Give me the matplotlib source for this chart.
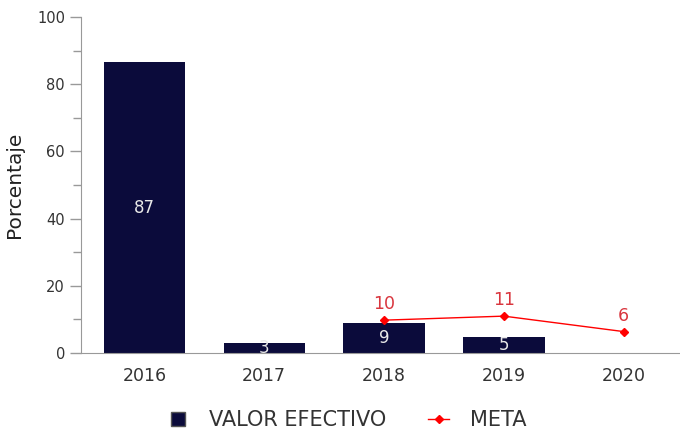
import numpy as np
import matplotlib.pyplot as plt
from matplotlib.ticker import MultipleLocator
from matplotlib.lines import Line2D

plt.rcParams['font.family'] = ['DejaVu Sans']

years = ['2016', '2017', '2018', '2019', '2020']
valor = [86.6, 3.0, 9.0, 4.8]
meta_years = ['2018', '2019', '2020']
meta = [9.8, 11.0, 6.4]
meta_labels = ['10', '11', '6']

fig = plt.figure(figsize=(6.8, 4.37), dpi=100)
ax = fig.add_axes([0.119, 0.192, 0.881, 0.769])

x = np.arange(len(years))
xb = x[:len(valor)]
ax.bar(xb, valor, width=0.68, color='#0b0b3b', zorder=2)
for xi, v in zip(xb, valor):
    ax.text(xi, v / 2, '%.0f' % v, ha='center', va='center', color='#e8e8e8', fontsize=12, zorder=3)

xm = [years.index(y) for y in meta_years]
ax.plot(xm, meta, color='#ff0000', lw=1, marker='D', markersize=4, zorder=4)
for xi, v, lab in zip(xm, meta, meta_labels):
    ax.text(xi, v + 2.0, lab, ha='center', va='bottom', color='#d9363e', fontsize=12.5, zorder=4)

ax.set_xlim(-0.53, 4.47)
ax.set_ylim(0, 100)
ax.set_xticks(x)
ax.set_xticklabels(years)
ax.yaxis.set_major_locator(MultipleLocator(20))
ax.yaxis.set_minor_locator(MultipleLocator(10))
ax.tick_params(axis='x', length=0, pad=10, labelsize=12.5, labelcolor='#333333')
ax.tick_params(axis='y', which='major', length=8, width=1, color='#999999', labelsize=10.5, labelcolor='#333333')
ax.tick_params(axis='y', which='minor', length=6, width=1, color='#999999')
for s in ['top', 'right']:
    ax.spines[s].set_visible(False)
for s in ['left', 'bottom']:
    ax.spines[s].set_color('#999999')
ax.set_ylabel('Porcentaje', fontsize=14.5, color='#222222', labelpad=9)

handles = [
    Line2D([], [], ls='none', marker='s', markersize=10, color='#0b0b3b', markeredgecolor='#555555'),
    Line2D([], [], color='#ff0000', lw=1, marker='D', markersize=4),
]
ax.legend(handles, ['VALOR EFECTIVO', 'META'], loc='upper center', bbox_to_anchor=(0.444, -0.115),
          ncol=2, frameon=False, fontsize=15, handlelength=1.0, handletextpad=1.0,
          columnspacing=2.0, labelcolor='#333333')

fig.savefig('out.png', dpi=100)
